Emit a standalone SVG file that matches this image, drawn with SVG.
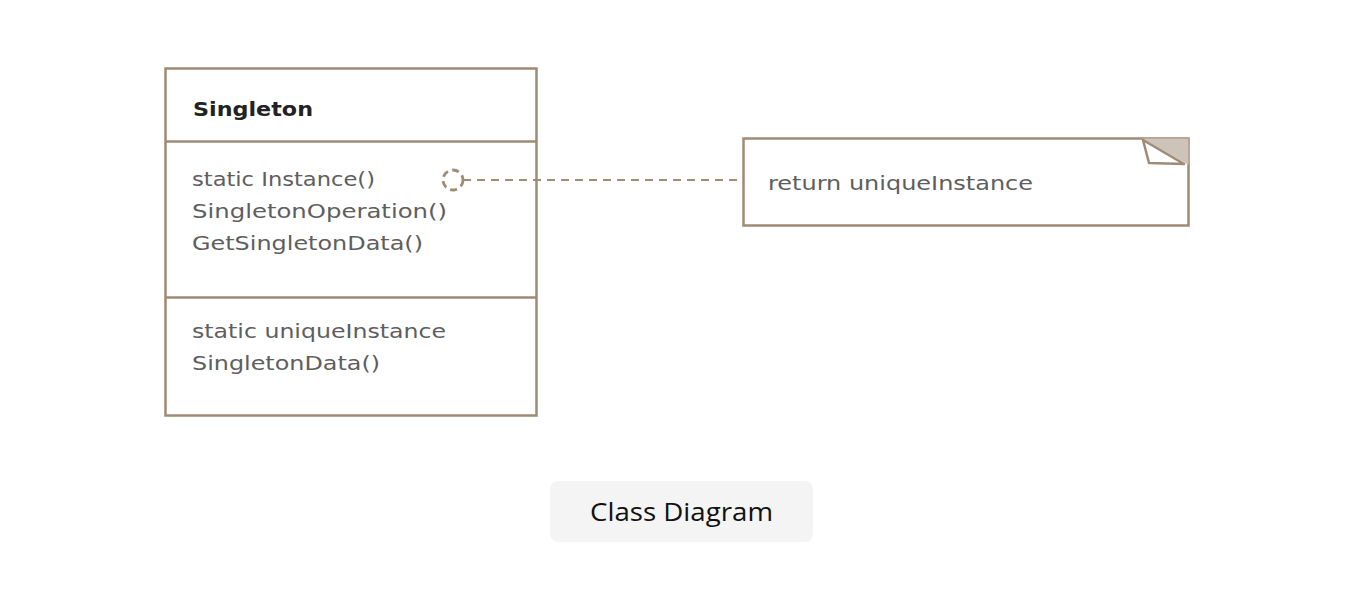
<svg xmlns="http://www.w3.org/2000/svg" width="1356" height="602" viewBox="0 0 1356 602">
<style>
.box{fill:#fff;stroke:#9e8b76;stroke-width:2.5}
.t{font-family:"DejaVu Sans",sans-serif;font-size:19px;fill:#5e5e5e}
.b{font-family:"DejaVu Sans",sans-serif;font-size:20px;font-weight:bold;fill:#222}
.dash{fill:none;stroke:#a08d78;stroke-width:2;stroke-dasharray:8,6}
</style>
<rect width="1356" height="602" fill="#fff"/>
<g id="singleton">
<rect class="box" x="165.5" y="68.5" width="371" height="347"/>
<line class="box" x1="165.5" y1="141.5" x2="536.5" y2="141.5"/>
<line class="box" x1="165.5" y1="297.5" x2="536.5" y2="297.5"/>
<text class="b" x="193" y="116" textLength="120" lengthAdjust="spacingAndGlyphs">Singleton</text>
<text class="t" x="192" y="186" textLength="183" lengthAdjust="spacingAndGlyphs">static Instance()</text>
<text class="t" x="192" y="218" textLength="255" lengthAdjust="spacingAndGlyphs">SingletonOperation()</text>
<text class="t" x="192" y="250" textLength="231" lengthAdjust="spacingAndGlyphs">GetSingletonData()</text>
<text class="t" x="192" y="338" textLength="254" lengthAdjust="spacingAndGlyphs">static uniqueInstance</text>
<text class="t" x="192" y="370" textLength="188" lengthAdjust="spacingAndGlyphs">SingletonData()</text>
</g>
<g id="note">
<path class="box" d="M743.5 138.5 H1188.5 V225.5 H743.5 Z"/>
<path d="M1142 138.5 H1188.5 V165 Z" fill="#cdc3b8"/>
<path d="M1143 140 L1149 163 L1184 164 Z" fill="#fff" stroke="#9e8b76" stroke-width="2.5" stroke-linejoin="round"/>
<text class="t" x="768" y="190" textLength="265" lengthAdjust="spacingAndGlyphs">return uniqueInstance</text>
</g>
<g id="connectors">
<circle cx="453" cy="180" r="10" fill="none" stroke="#9e8b76" stroke-width="2.8" stroke-dasharray="7,4.5"/>
<line class="dash" x1="463" y1="180" x2="743" y2="180"/>
</g>
<g id="caption">
<rect x="550" y="481" width="263" height="61" rx="8" fill="#f4f4f4"/>
<text x="590" y="521" font-family="'Open Sans',sans-serif" font-size="26" fill="#111" textLength="183" lengthAdjust="spacingAndGlyphs">Class Diagram</text>
</g>
</svg>
